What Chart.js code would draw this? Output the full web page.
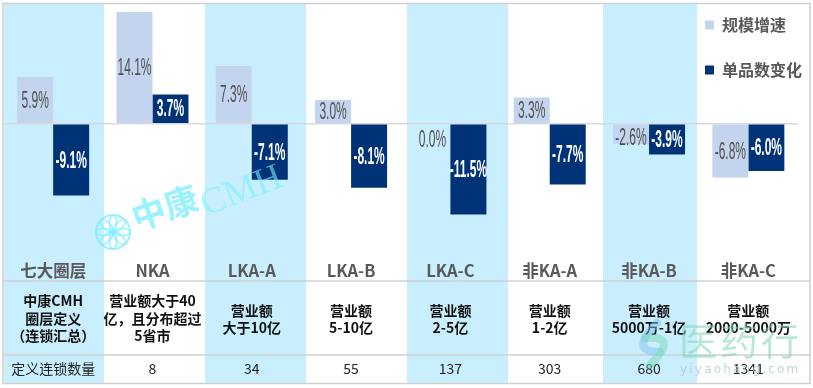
<!DOCTYPE html>
<html><head><meta charset="utf-8">
<style>html,body{margin:0;padding:0;background:#fff}#w{width:813px;height:388px;position:relative}</style>
<script src="https://cdn.jsdelivr.net/npm/chart.js@4"></script>
</head><body><div id="w"><canvas id="c" width="813" height="388"></canvas></div>
<script>
const categories = ['七大圈层','NKA','LKA-A','LKA-B','LKA-C','非KA-A','非KA-B','非KA-C'];
const scaleGrowth = [5.9,14.1,7.3,3.0,0.0,3.3,-2.6,-6.8];
const skuChange = [-9.1,3.7,-7.1,-8.1,-11.5,-7.7,-3.9,-6.0];
const definitions = [
  ['中康CMH','圈层定义','（连锁汇总）'],
  ['营业额大于40','亿，且分布超过','5省市'],
  ['营业额','大于10亿'],
  ['营业额','5-10亿'],
  ['营业额','2-5亿'],
  ['营业额','1-2亿'],
  ['营业额','5000万-1亿'],
  ['营业额','2000-5000万']
];
const chainCounts = ['定义连锁数量','8','34','55','137','303','680','1341'];
const CJK = '"Noto Sans CJK SC","Noto Sans",sans-serif';
const bands = [[4,104],[205,306],[407,508],[603,697]];
const rules = [281,355];

const backdrop = {
  id:'backdrop',
  beforeDraw(chart){
    const g = chart.ctx; g.save();
    g.fillStyle = '#C9EFFF';
    bands.forEach(b=>g.fillRect(b[0],4,b[1]-b[0],380));
    g.restore();
  },
  afterLayout(chart){
    const l = chart.legend;
    l.left = 676; l.right = 810; l.top = -12; l.bottom = 380;
  }
};
const table = {
  id:'table',
  afterDraw(chart){
    const g = chart.ctx, x = chart.scales.x; g.save();
    g.strokeStyle = '#D0D0D0'; g.lineWidth = 1.5;
    rules.forEach(y=>{g.beginPath();g.moveTo(3,y);g.lineTo(810,y);g.stroke();});
    g.strokeRect(3,3.5,807,380);
    g.textAlign='center'; g.textBaseline='middle';
    g.fontKerning='none';
    g.fillStyle='#111';
    g.font='bold 14px '+CJK;
    definitions.forEach((lines,i)=>{
      const cx=x.getPixelForTick(i);
      const ys = lines.length===3?[301,319,336]:[311,328];
      lines.forEach((t,j)=>g.fillText(t,cx,ys[j]));
    });
    g.font='14px '+CJK; g.fillStyle='#222';
    chainCounts.forEach((t,i)=>g.fillText(t,x.getPixelForTick(i),369));
    g.restore();
  }
};
const valueLabels = {
  id:'valueLabels',
  afterDatasetsDraw(chart){
    const g = chart.ctx; g.save();
    g.textAlign='center'; g.textBaseline='middle';
    chart.data.datasets.forEach((ds,di)=>{
      chart.getDatasetMeta(di).data.forEach((bar,i)=>{
        const v=ds.data[i], s=v.toFixed(1)+'%';
        let y=(bar.y+bar.base)/2+1;
        if(v===0) y+=16;
        if(v===-2.6) y+=3;
        g.save();
        g.translate(bar.x,y); g.scale(0.5,1);
        g.font=(di?'bold ':'')+'24px "Liberation Sans",sans-serif';
        g.fillStyle=di?'#fff':'#505050';
        g.fillText(s,0,0);
        g.restore();
      });
    });
    g.restore();
  }
};
const watermark = {
  id:'watermark',
  afterDraw(chart){
    const g = chart.ctx; g.save();
    const cyan='rgba(120,238,255,.75)';
    g.save(); g.translate(113,232); g.strokeStyle=cyan; g.lineWidth=2;
    g.beginPath(); g.arc(0,0,17,0,Math.PI*2); g.stroke(); g.lineWidth=1.5;
    for(let k=0;k<8;k++){ g.rotate(Math.PI/4); g.beginPath(); g.ellipse(0,-9,3.6,8,0,0,Math.PI*2); g.stroke(); }
    g.restore();
    g.fillStyle=cyan; g.textBaseline='alphabetic'; g.textAlign='left';
    g.save(); g.translate(137,231); g.rotate(-0.34);
    g.font='bold 34px '+CJK; g.fillText('中康',0,0);
    g.restore();
    g.save(); g.translate(206,216); g.rotate(-0.37);
    g.globalAlpha=.8; g.font='37px "Liberation Serif",serif'; g.fillText('CMH',0,0);
    g.restore();
    g.fillStyle='rgba(130,215,175,.55)';
    g.font='38px '+CJK; g.fillText('医',679,355);
    g.fillText('药',720,355); g.fillText('行',761,355);
    g.fillStyle='rgba(185,205,205,.85)'; g.font='12px "DejaVu Sans",sans-serif';
    g.letterSpacing='2.2px'; g.fillText('yiyaohang.com',680,373); g.letterSpacing='0px';
    g.lineCap='round'; g.lineWidth=8;
    g.strokeStyle='rgba(125,195,240,.5)';
    g.beginPath(); g.moveTo(657,323); g.quadraticCurveTo(628,352,660,352); g.stroke();
    g.strokeStyle='rgba(120,215,180,.5)';
    g.beginPath(); g.moveTo(645,338); g.quadraticCurveTo(680,335,650,365); g.stroke();
    g.restore();
  }
};
new Chart(document.getElementById('c'),{
  type:'bar',
  data:{labels:categories,datasets:[
    {label:'规模增速',data:scaleGrowth,backgroundColor:'#C3D5EE',categoryPercentage:0.725,barPercentage:1},
    {label:'单品数变化',data:skuChange,backgroundColor:'#003278',categoryPercentage:0.725,barPercentage:1}
  ]},
  plugins:[backdrop,valueLabels,table,watermark],
  options:{
    responsive:false,animation:false,
    layout:{padding:{left:3.5,right:15,top:5,bottom:104}},
    plugins:{
      tooltip:{enabled:false},
      legend:{position:'chartArea',align:'start',labels:{boxWidth:9,boxHeight:9,padding:29,color:'#595959',font:{size:16,weight:'bold',family:CJK}}}
    },
    scales:{
      x:{grid:{display:false},border:{display:false},ticks:{padding:3,color:'#595959',maxRotation:0,autoSkip:false,font:{size:16.5,weight:'bold',family:CJK}}},
      y:{min:-16,max:15,afterFit(s){s.width=0;},border:{display:false},ticks:{display:false,stepSize:1},
         grid:{drawTicks:false,lineWidth:1.5,color:c=>c.tick.value===0?'#D9D9D9':'transparent'}}
    }
  }
});
</script></body></html>
